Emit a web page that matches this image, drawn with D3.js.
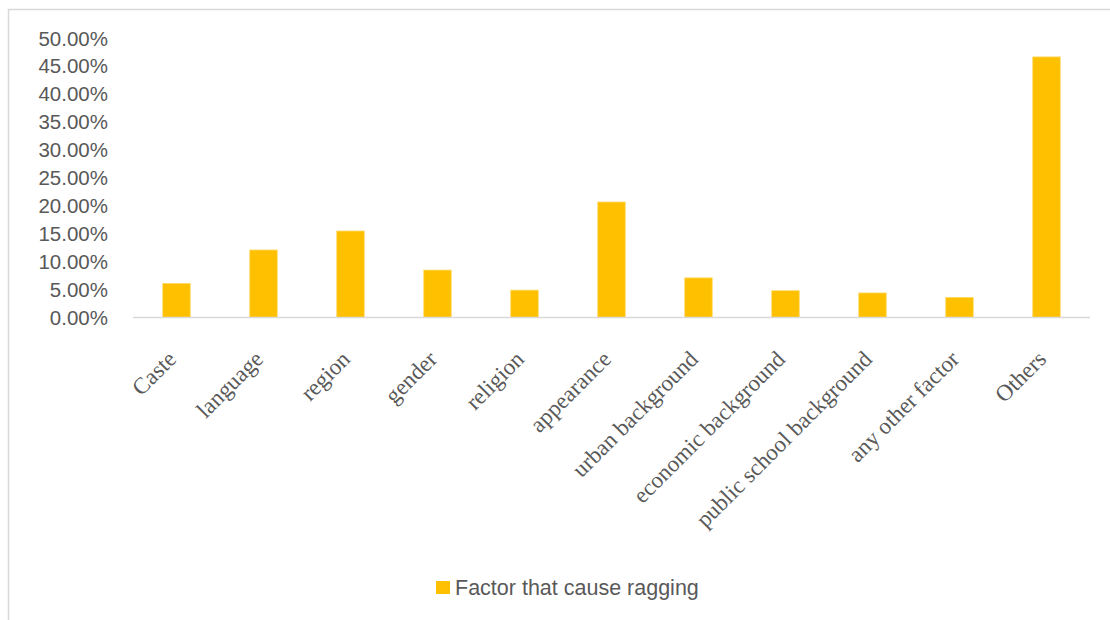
<!DOCTYPE html>
<html>
<head>
<meta charset="utf-8">
<script src="https://cdn.jsdelivr.net/npm/d3@7/dist/d3.min.js"></script>
<style>
  html, body { margin: 0; padding: 0; background: #ffffff; }
  svg { display: block; }
</style>
</head>
<body>
<svg id="chart" width="1110" height="620"></svg>
<script>
const categories = ["Caste", "language", "region", "gender", "religion", "appearance",
  "urban background", "economic background", "public school background", "any other factor", "Others"];
const values = [0.061, 0.121, 0.155, 0.085, 0.049, 0.207, 0.071, 0.048, 0.044, 0.036, 0.467];
const seriesName = "Factor that cause ragging";
const yTicks = [0, 0.05, 0.10, 0.15, 0.20, 0.25, 0.30, 0.35, 0.40, 0.45, 0.50];

const svg = d3.select("#chart");
const W = 1110, H = 620;

// outer border (top + left visible)
svg.append("rect")
  .attr("x", 8.5).attr("y", 9.5)
  .attr("width", W + 20).attr("height", H + 20)
  .attr("fill", "none").attr("stroke", "#d9d9d9").attr("stroke-width", 1.5);

const x = d3.scaleBand().domain(categories).range([133, 1090])
  .paddingInner(0.684).paddingOuter(0.342);
const y = d3.scaleLinear().domain([0, 0.5]).range([317.5, 38.5]);

// y axis labels
const yAxis = d3.axisLeft(y).tickValues(yTicks).tickFormat(d3.format(".2%")).tickSize(0).tickPadding(0);
const gy = svg.append("g").attr("transform", "translate(108,0)").call(yAxis);
gy.select(".domain").remove();
gy.selectAll("text")
  .attr("fill", "#595959")
  .style("font-family", "'Liberation Sans', Arial, sans-serif")
  .style("font-size", "20.5px");

// bars
svg.append("g").selectAll("rect").data(values).join("rect")
  .attr("x", (d, i) => x(categories[i]))
  .attr("y", d => y(d))
  .attr("width", x.bandwidth())
  .attr("height", d => y(0) - y(d))
  .attr("fill", "#ffc000")
  .attr("stroke", "#ffd966").attr("stroke-width", 0.8);

// x axis
const xAxis = d3.axisBottom(x).tickSize(0).tickPadding(0);
const gx = svg.append("g").attr("transform", `translate(0,${y(0)})`).call(xAxis);
gx.select(".domain").attr("stroke", "#d9d9d9").attr("stroke-width", 1.4)
  .attr("d", `M${x.range()[0]},0H${x.range()[1]}`);
gx.selectAll(".tick text")
  .attr("fill", "#595959")
  .attr("text-anchor", "end")
  .attr("dy", null)
  .attr("y", null)
  .attr("transform", `translate(1,43) rotate(-45)`)
  .style("font-family", "'Liberation Serif', 'Times New Roman', serif")
  .style("font-size", "23px");

// legend
const lg = svg.append("g");
lg.append("rect").attr("x", 436).attr("y", 581).attr("width", 14).attr("height", 13).attr("fill", "#ffc000");
lg.append("text").attr("x", 455).attr("y", 588).attr("dominant-baseline", "central")
  .attr("fill", "#595959")
  .style("font-family", "'Liberation Sans', Arial, sans-serif")
  .style("font-size", "21.5px")
  .text(seriesName);
</script>
</body>
</html>
